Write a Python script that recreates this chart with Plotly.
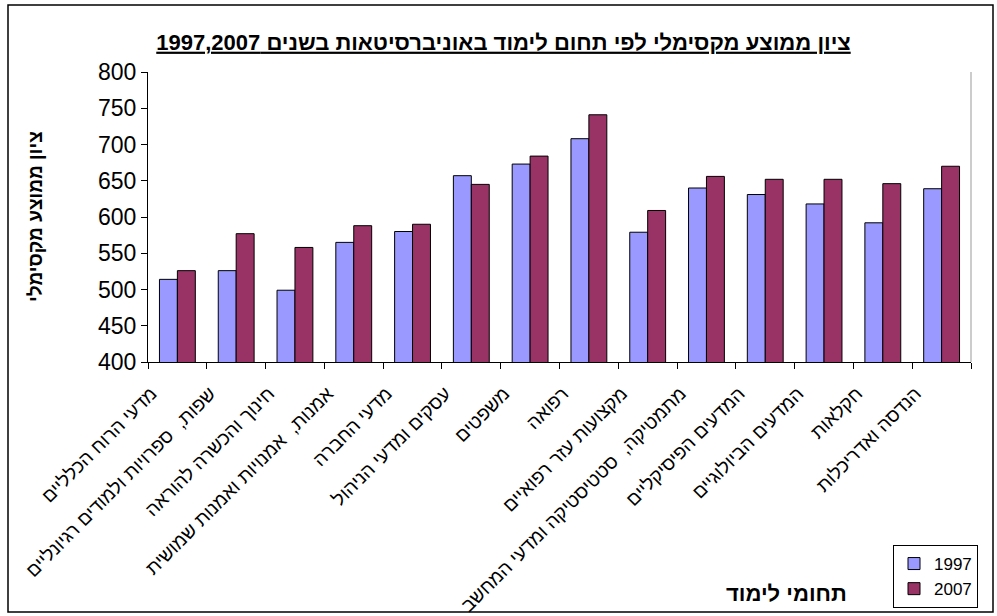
import plotly.graph_objects as go

categories = [
    "מדעי הרוח הכלליים",
    "שפות,  ספרויות ולמודים רגיונליים",
    "חינוך והכשרה להוראה",
    "אמנות,  אמנויות ואמנות שמושית",
    "מדעי החברה",
    "עסקים ומדעי הניהול",
    "משפטים",
    "רפואה",
    "מקצועות עזר רפואיים",
    "מתמטיקה,  סטטיסטיקה ומדעי המחשב",
    "המדעים הפיסיקליים",
    "המדעים הביולוגיים",
    "חקלאות",
    "הנדסה ואדריכלות",
]
values_1997 = [514, 526, 499, 565, 580, 657, 673, 708, 579, 640, 631, 618, 592, 639]
values_2007 = [526, 577, 558, 588, 590, 645, 684, 741, 609, 656, 652, 652, 646, 670]
series_names = ["1997", "2007"]
title_text = "<b><u>ציון ממוצע מקסימלי לפי תחום לימוד באוניברסיטאות בשנים 1997,2007</u></b>"
y_title = "ציון ממוצע מקסימלי"
x_title = "תחומי לימוד"

FONT = "Liberation Sans, Arial, sans-serif"

fig = go.Figure()
fig.add_trace(go.Bar(x=categories, y=values_1997, name=series_names[0],
                     marker=dict(color="#9999FF", line=dict(color="#000000", width=1))))
fig.add_trace(go.Bar(x=categories, y=values_2007, name=series_names[1],
                     marker=dict(color="#993366", line=dict(color="#000000", width=1))))

L, R, T, B = 148, 26, 72, 254
W, H = 997, 616
pw = W - L - R
ph = H - T - B

def px_x(x):
    return (x - L) / pw

def px_y(y):
    return (H - B - y) / ph

fig.update_layout(
    width=W, height=H,
    margin=dict(l=L, r=R, t=T, b=B, autoexpand=False),
    paper_bgcolor="white", plot_bgcolor="white",
    font=dict(family=FONT, color="black"),
    barmode="group", bargap=0.39, bargroupgap=0.0,
    title=dict(text=title_text, x=0.505, xref="container", xanchor="center",
               y=1 - 42 / H, yref="container", yanchor="middle",
               font=dict(size=22, family=FONT, color="black")),
    xaxis=dict(
        tickangle=-45, tickfont=dict(size=19, family=FONT),
        ticklabelshift=-26, ticklabelstandoff=12,
        showline=True, linecolor="#000000", linewidth=1,
        ticks="outside", ticklen=6, tickcolor="#000000", tickson="boundaries",
        showgrid=False, zeroline=False,
    ),
    yaxis=dict(
        range=[400, 800], tickvals=[400, 450, 500, 550, 600, 650, 700, 750, 800],
        tickfont=dict(size=23, family=FONT), ticks="outside", ticklen=6,
        tickcolor="#000000", showline=True, linecolor="#000000", linewidth=1,
        showgrid=False, zeroline=False,
    ),
    showlegend=True,
    legend=dict(x=px_x(978), y=px_y(545), xanchor="right", yanchor="top",
                bgcolor="white", bordercolor="#000000", borderwidth=1,
                font=dict(size=17, family=FONT), tracegroupgap=0,
                itemwidth=30),
    annotations=[
        dict(text="<b>" + y_title + "</b>", x=px_x(35), y=0.5, xref="paper", yref="paper",
             textangle=-90, showarrow=False, font=dict(size=19, family=FONT),
             xanchor="center", yanchor="middle"),
        dict(text="<b>" + x_title + "</b>", x=px_x(786), y=px_y(593), xref="paper", yref="paper",
             showarrow=False, font=dict(size=22, family=FONT),
             xanchor="center", yanchor="middle"),
    ],
    shapes=[
        dict(type="rect", xref="paper", yref="paper",
             x0=px_x(8), x1=px_x(993), y0=px_y(612), y1=px_y(5),
             line=dict(color="#000000", width=1.5), fillcolor="rgba(0,0,0,0)", layer="below"),
        dict(type="line", xref="paper", yref="paper", x0=1, x1=1, y0=0, y1=1,
             line=dict(color="#999999", width=1)),
    ],
)

fig.write_html("out.html", config={"displayModeBar": False},
               post_script="document.body.style.margin='0';")
